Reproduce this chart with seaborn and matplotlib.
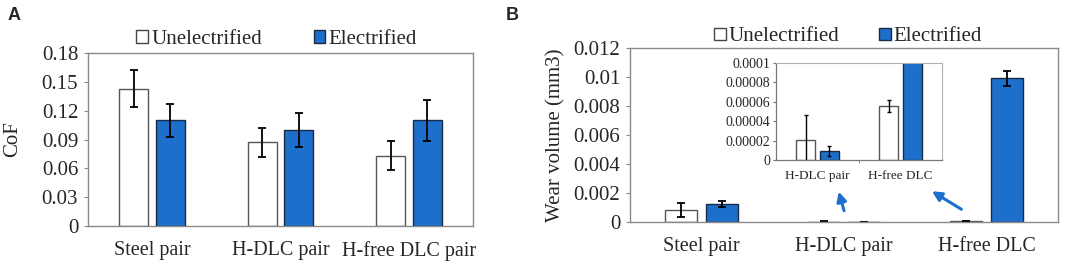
import matplotlib.pyplot as plt
import matplotlib.ticker as mticker
import numpy as np
import pandas as pd
import seaborn as sns

# data
pairs = ['Steel pair', 'H-DLC pair', 'H-free DLC pair']
pairs_b = ['Steel pair', 'H-DLC pair', 'H-free DLC']
conditions = ['Unelectrified', 'Electrified']

cof_unelec = [0.143, 0.087, 0.073]
cof_elec = [0.110, 0.100, 0.110]
cof_unelec_err = [0.019, 0.015, 0.015]
cof_elec_err = [0.017, 0.018, 0.021]

wear_unelec = [0.00085, 0.000021, 0.000056]
wear_elec = [0.00125, 0.000009, 0.00993]
wear_unelec_err = [0.00048, 0.000025, 0.000006]
wear_elec_err = [0.00020, 0.000005, 0.00052]

cof_ticks = [0, 0.03, 0.06, 0.09, 0.12, 0.15, 0.18]
cof_ticklabels = ['0', '0.03', '0.06', '0.09', '0.12', '0.15', '0.18']
wear_ticks = [0, 0.002, 0.004, 0.006, 0.008, 0.01, 0.012]
wear_ticklabels = ['0', '0.002', '0.004', '0.006', '0.008', '0.01', '0.012']
inset_ticks = [0, 0.00002, 0.00004, 0.00006, 0.00008, 0.0001]
inset_ticklabels = ['0', '0.00002', '0.00004', '0.00006', '0.00008', '0.0001']

BLUE = '#1c6fcb'
SPINE = '#8a8a8a'

sns.set_style('white')
plt.rcParams['font.family'] = ['Liberation Serif']


def make_df(cats, unelec, elec, unelec_err, elec_err):
    return pd.DataFrame({
        'pair': cats * 2,
        'cond': [conditions[0]] * len(cats) + [conditions[1]] * len(cats),
        'value': unelec + elec,
        'err': unelec_err + elec_err,
    })


def draw_bars(ax, df, capsize=3, elw=1.3):
    sns.barplot(data=df, x='pair', y='value', hue='cond', hue_order=conditions,
                palette=['white', BLUE], saturation=1, width=0.57, gap=0.21,
                errorbar=None, linewidth=1.0, ax=ax)
    edge = ['#555555', '#1a2a40']
    bar_conts = list(ax.containers)
    for k, cont in enumerate(bar_conts):
        sub = df[df.cond == conditions[k]]
        for bar, err in zip(cont, sub.err):
            bar.set_edgecolor(edge[k])
            x = bar.get_x() + bar.get_width() / 2
            ax.errorbar(x, bar.get_height(), yerr=err, color='black',
                        capsize=capsize, elinewidth=elw, capthick=elw, fmt='none')
    ax.set_xlim(-0.5, df.pair.nunique() - 0.5)


def style_axes(ax):
    for s in ax.spines.values():
        s.set_color(SPINE)
        s.set_linewidth(1.0)
    ax.tick_params(axis='y', which='major', direction='out', length=3,
                   color=SPINE, labelsize=15, pad=4, left=True)
    ax.tick_params(axis='x', length=0, labelsize=14.5, pad=11)
    ax.set_xlabel('')


def fix_legend(ax, xanchor, yanchor, colspace):
    handles, labels = ax.get_legend_handles_labels()
    for h, ec in zip(handles, ['#444444', '#1a2a40']):
        h.set_edgecolor(ec)
        h.set_linewidth(1.0)
    ax.legend(handles, labels, ncol=2, loc='lower center',
              bbox_to_anchor=(xanchor, yanchor), frameon=False, fontsize=15,
              handlelength=0.55, handleheight=0.55, handletextpad=0.15,
              columnspacing=colspace, borderaxespad=0.1)


fig = plt.figure(figsize=(10.65, 2.64), dpi=100)

# panel A
ax_a = fig.add_axes([0.0826, 0.1439, 0.3615, 0.655])
df_a = make_df(pairs, cof_unelec, cof_elec, cof_unelec_err, cof_elec_err)
draw_bars(ax_a, df_a)
ax_a.set_ylim(0, 0.18)
ax_a.set_yticks(cof_ticks)
ax_a.set_yticklabels(cof_ticklabels)
ax_a.set_ylabel('CoF', fontsize=15, labelpad=14)
style_axes(ax_a)
fix_legend(ax_a, 0.49, 0.965, 2.5)

# panel B
ax_b = fig.add_axes([0.5915, 0.159, 0.4019, 0.659])
df_b = make_df(pairs_b, wear_unelec, wear_elec, wear_unelec_err, wear_elec_err)
draw_bars(ax_b, df_b)
ax_b.set_ylim(0, 0.012)
ax_b.set_yticks(wear_ticks)
ax_b.set_yticklabels(wear_ticklabels)
ax_b.set_ylabel('Wear volume (mm3)', fontsize=15, labelpad=6)
style_axes(ax_b)
fix_legend(ax_b, 0.51, 0.95, 1.9)

# inset zoom on the two DLC pairs
ax_in = fig.add_axes([0.7286, 0.394, 0.1559, 0.367])
df_in = df_b[df_b.pair != 'Steel pair'].reset_index(drop=True)
draw_bars(ax_in, df_in, capsize=1.5, elw=1.0)
ax_in.set_ylim(0, 0.0001)
ax_in.set_yticks(inset_ticks)
ax_in.set_yticklabels(inset_ticklabels)
ax_in.set_ylabel('')
ax_in.set_xlabel('')
if ax_in.get_legend() is not None:
    ax_in.get_legend().remove()
for side in ['top', 'right']:
    ax_in.spines[side].set_color('#b0b0b0')
    ax_in.spines[side].set_linewidth(0.8)
for side in ['left', 'bottom']:
    ax_in.spines[side].set_color('#777777')
    ax_in.spines[side].set_linewidth(0.9)
ax_in.tick_params(axis='y', direction='out', length=2, color='#777777',
                  labelsize=10, pad=2, left=True)
ax_in.tick_params(axis='x', length=0, labelsize=9.5, pad=7)
ax_in.xaxis.set_minor_locator(mticker.FixedLocator([0.5]))
ax_in.tick_params(axis='x', which='minor', bottom=True, direction='out', length=2,
                  color='#777777')

# arrows pointing from the small bars up to the inset
arrow_kw = dict(arrowstyle='-|>', color=BLUE, lw=2.2, mutation_scale=14)
ax_b.annotate('', xy=(0.486, 0.19), xytext=(0.502, 0.05), xycoords='axes fraction',
              arrowprops=arrow_kw)
ax_b.annotate('', xy=(0.70, 0.185), xytext=(0.78, 0.065), xycoords='axes fraction',
              arrowprops=arrow_kw)

# panel letters
fig.text(0.007, 0.975, 'A', fontsize=13, fontweight='bold', family='Liberation Sans',
         va='top', ha='left')
fig.text(0.475, 0.975, 'B', fontsize=13, fontweight='bold', family='Liberation Sans',
         va='top', ha='left')

fig.savefig('out.png', dpi=100)
